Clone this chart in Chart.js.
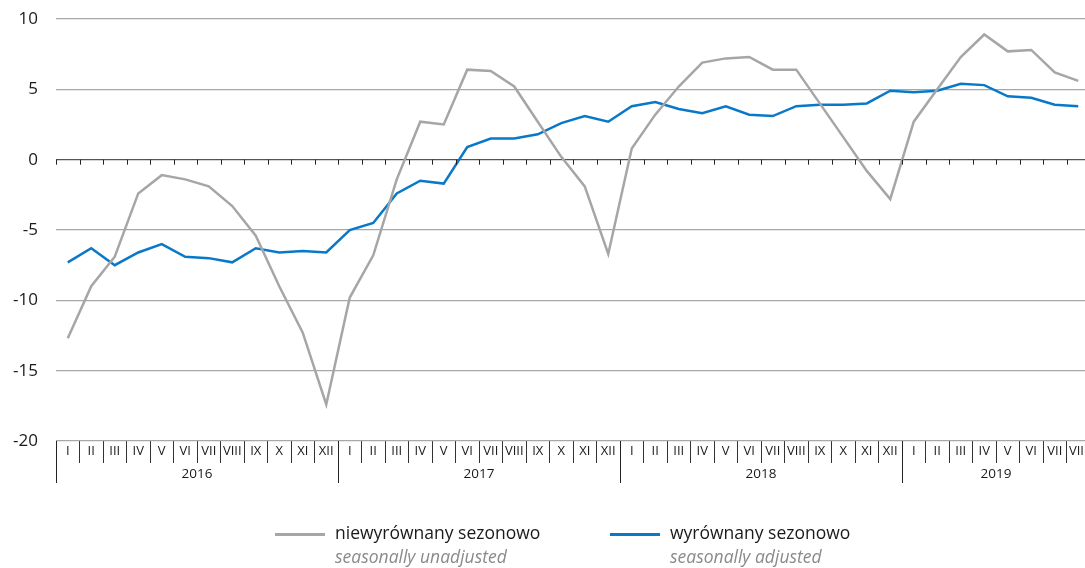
<!DOCTYPE html>
<html>
<head>
<meta charset="utf-8">
<script src="https://cdn.jsdelivr.net/npm/chart.js@4"></script>
<style>
  html, body { margin: 0; padding: 0; background: #fff; overflow: hidden; }
  #wrap { position: relative; width: 1085px; height: 568px; overflow: hidden; }
  #chart { position: absolute; left: 0; top: 0; }
  .leg { position: absolute; top: 520px; font-family: "Open Sans", sans-serif; font-size: 17.5px; line-height: 24px; color: #1a1a1a; }
  .leg .sw { position: absolute; top: 13px; width: 50px; height: 2.5px; }
  .leg .t { position: absolute; white-space: nowrap; }
  .leg em { color: #8a8a8a; }
</style>
</head>
<body>
<div id="wrap">
  <canvas id="chart" width="1100" height="568"></canvas>
  <div class="leg" style="left:275px">
    <div class="sw" style="background:#a6a6a6"></div>
    <div class="t" style="left:60px">niewyrównany sezonowo<br><em>seasonally unadjusted</em></div>
  </div>
  <div class="leg" style="left:610px">
    <div class="sw" style="background:#0a78c8"></div>
    <div class="t" style="left:60px">wyrównany sezonowo<br><em>seasonally adjusted</em></div>
  </div>
</div>
<script>
const months = ['I', 'II', 'III', 'IV', 'V', 'VI', 'VII', 'VIII', 'IX', 'X', 'XI', 'XII']
const years = ['2016', '2017', '2018', '2019']
const monthsInLastYear = 8

const labels = []
years.forEach((y, yi) => {
  const count = yi === years.length - 1 ? monthsInLastYear : 12
  for (let m = 0; m < count; m++) labels.push(months[m])
})

const unadjusted = [
  -12.7, -9.0, -6.9, -2.4, -1.1, -1.4, -1.9, -3.3, -5.4, -9.0, -12.3, -17.4,
  -9.8, -6.8, -1.4, 2.7, 2.5, 6.4, 6.3, 5.2, 2.7, 0.2, -1.9, -6.7,
  0.8, 3.2, 5.2, 6.9, 7.2, 7.3, 6.4, 6.4, 4.0, 1.6, -0.8, -2.8,
  2.7, 5.0, 7.3, 8.9, 7.7, 7.8, 6.2, 5.6
]
const adjusted = [
  -7.3, -6.3, -7.5, -6.6, -6.0, -6.9, -7.0, -7.3, -6.3, -6.6, -6.5, -6.6,
  -5.0, -4.5, -2.4, -1.5, -1.7, 0.9, 1.5, 1.5, 1.8, 2.6, 3.1, 2.7,
  3.8, 4.1, 3.6, 3.3, 3.8, 3.2, 3.1, 3.8, 3.9, 3.9, 4.0, 4.9,
  4.8, 4.9, 5.4, 5.3, 4.5, 4.4, 3.9, 3.8
]

const axisFont = { family: '"Open Sans", sans-serif', size: 13 }

// ticks on the zero line and the year row under the month labels
const monthAxisExtras = {
  id: 'monthAxisExtras',
  afterDraw(chart) {
    const ctx = chart.ctx
    const x = chart.scales.x
    const y = chart.scales.y
    const zero = y.getPixelForValue(0)
    const bottom = chart.chartArea.bottom
    ctx.save()
    ctx.strokeStyle = '#222'
    ctx.lineWidth = 1
    for (let i = 0; i <= labels.length; i++) {
      const px = Math.round(x.getPixelForValue(i - 0.5)) + 0.5
      ctx.beginPath()
      ctx.moveTo(px, zero)
      ctx.lineTo(px, zero + 5)
      ctx.stroke()
    }
    let start = 0
    ctx.fillStyle = '#1a1a1a'
    ctx.font = '13.5px "Open Sans", sans-serif'
    ctx.textAlign = 'center'
    ctx.textBaseline = 'middle'
    years.forEach((yr, yi) => {
      const count = yi === years.length - 1 ? monthsInLastYear : 12
      const px = Math.round(x.getPixelForValue(start - 0.5)) + 0.5
      ctx.beginPath()
      ctx.moveTo(px, bottom)
      ctx.lineTo(px, bottom + 42)
      ctx.stroke()
      const cx = (x.getPixelForValue(start - 0.5) + x.getPixelForValue(start + count - 0.5)) / 2
      ctx.fillText(yr, cx, bottom + 33)
      start += count
    })
    ctx.restore()
  }
}

new Chart(document.getElementById('chart'), {
  type: 'line',
  data: {
    labels,
    datasets: [{
      label: 'niewyrównany sezonowo',
      data: unadjusted,
      borderColor: '#a6a6a6',
      borderWidth: 2.5,
      pointRadius: 0,
      tension: 0
    }, {
      label: 'wyrównany sezonowo',
      data: adjusted,
      borderColor: '#0a78c8',
      borderWidth: 2.5,
      pointRadius: 0,
      tension: 0
    }]
  },
  options: {
    responsive: false,
    animation: false,
    layout: { padding: { top: 19, right: 10, left: 0, bottom: 0 } },
    plugins: { legend: { display: false }, tooltip: { enabled: false } },
    scales: {
      x: {
        offset: true,
        border: { display: false },
        grid: { offset: true, drawOnChartArea: false, color: '#333', tickLength: 22, lineWidth: 1 },
        ticks: { autoSkip: false, maxRotation: 0, padding: -20, color: '#1a1a1a', font: axisFont },
        afterFit(scale) { scale.height = 127 }
      },
      y: {
        min: -20,
        max: 10,
        border: { display: false },
        grid: {
          drawTicks: false,
          color: ctx => ctx.tick.value === 0 ? '#555' : '#a8a8a8',
          lineWidth: 1.3
        },
        ticks: { stepSize: 5, padding: 18, color: '#1a1a1a', font: { family: '"Open Sans", sans-serif', size: 17 } },
        afterFit(scale) {
          scale.width = 56
          scale.paddingTop = 0
          scale.paddingBottom = 0
        }
      }
    }
  },
  plugins: [monthAxisExtras]
})
</script>
</body>
</html>
